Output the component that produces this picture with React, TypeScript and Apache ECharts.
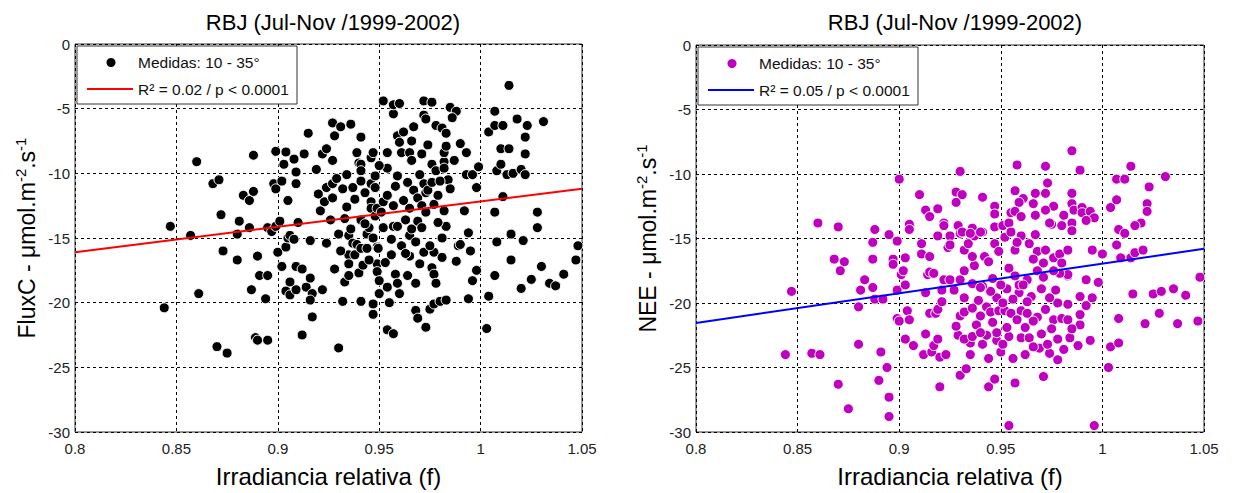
import React, { useEffect, useRef } from "react";
import * as echarts from "echarts";

const titleText = "RBJ (Jul-Nov /1999-2002)";
const xName = "Irradiancia relativa (f)";
const legendPoints = "Medidas: 10 - 35°";
const legendFitLeft = "R² = 0.02 / p < 0.0001";
const legendFitRight = "R² = 0.05 / p < 0.0001";

const fitLeft: number[][] = [[0.8, -16.1], [1.05, -11.2]];
const fitRight: number[][] = [[0.8, -21.55], [1.05, -15.8]];

const fluxC: number[][] = [
  [0.844,-20.4],[0.847,-14.1],[0.857,-14.8],[0.860,-9.1],[0.861,-19.3],[0.868,-10.8],[0.871,-10.5],[0.870,-23.4],[0.875,-23.9],[0.872,-13.2],
  [0.873,-16.0],[0.880,-16.7],[0.880,-14.7],[0.881,-13.7],[0.883,-11.7],[0.886,-12.1],[0.886,-14.2],[0.887,-19.0],[0.888,-8.6],[0.888,-11.4],
  [0.890,-16.4],[0.889,-22.7],[0.890,-22.9],[0.891,-17.9],[0.895,-17.9],[0.894,-19.7],[0.895,-22.9],[0.895,-14.2],[0.897,-14.5],[0.899,-8.3],
  [0.898,-10.8],[0.899,-11.2],[0.899,-14.1],[0.900,-16.1],[0.901,-13.7],[0.902,-10.6],[0.902,-17.2],[0.903,-9.3],[0.904,-8.35],[0.905,-12.1],
  [0.904,-15.7],[0.905,-15.0],[0.906,-14.8],[0.904,-19.1],[0.906,-18.4],[0.906,-19.4],[0.908,-15.1],[0.909,-10.8],[0.908,-8.9],[0.909,-19.0],
  [0.909,-9.9],[0.910,-13.8],[0.909,-17.2],[0.912,-17.4],[0.913,-8.5],[0.912,-22.5],[0.914,-18.8],[0.916,-18.1],[0.915,-6.9],[0.916,-15.2],
  [0.917,-19.3],[0.916,-19.8],[0.917,-21.1],[0.919,-9.7],[0.922,-8.5],[0.920,-11.6],[0.921,-12.9],[0.922,-19.0],[0.923,-12.2],[0.924,-8.1],
  [0.924,-15.4],[0.924,-11.1],[0.927,-10.8],[0.927,-11.9],[0.927,-9.0],[0.928,-7.1],[0.927,-6.1],[0.928,-17.4],[0.930,-23.5],[0.930,-14.7],
  [0.931,-6.4],[0.929,-10.4],[0.932,-19.9],[0.932,-11.2],[0.933,-13.5],[0.933,-18.4],[0.935,-17.9],[0.934,-10.1],[0.934,-12.6],[0.935,-16.3],
  [0.935,-17.0],[0.935,-14.8],[0.936,-14.3],[0.936,-6.2],[0.937,-15.4],[0.937,-11.1],[0.938,-16.3],[0.939,-8.4],[0.939,-15.5],[0.940,-9.2],
  [0.941,-9.3],[0.940,-17.7],[0.941,-7.2],[0.941,-19.9],[0.941,-9.8],[0.941,-10.6],[0.941,-13.6],[0.941,-15.8],[0.942,-17.1],[0.943,-11.5],
  [0.944,-15.8],[0.944,-14.7],[0.945,-14.2],[0.946,-12.2],[0.946,-12.7],[0.946,-10.8],[0.946,-8.8],[0.947,-8.4],[0.947,-20.1],[0.947,-20.9],
  [0.947,-15.0],[0.948,-10.2],[0.948,-11.1],[0.948,-13.3],[0.949,-12.7],[0.949,-15.7],[0.949,-17.0],[0.949,-17.6],[0.9495,-15.8],[0.950,-18.3],
  [0.950,-19.3],[0.952,-4.4],[0.952,-12.2],[0.952,-14.2],[0.954,-8.4],[0.954,-9.6],[0.954,-11.7],[0.954,-18.8],[0.955,-20.0],[0.954,-22.1],
  [0.957,-22.4],[0.956,-15.1],[0.956,-16.3],[0.957,-5.4],[0.957,-4.7],[0.960,-4.6],[0.957,-14.1],[0.958,-17.8],[0.959,-7.1],[0.959,-10.2],
  [0.959,-14.1],[0.959,-18.5],[0.960,-19.3],[0.960,-7.6],[0.961,-8.4],[0.961,-15.6],[0.962,-6.8],[0.963,-13.6],[0.964,-10.7],[0.964,-17.9],
  [0.965,-8.4],[0.965,-12.7],[0.965,-14.8],[0.965,-16.4],[0.966,-7.5],[0.967,-6.4],[0.966,-14.3],[0.967,-11.3],[0.968,-20.6],[0.968,-18.5],
  [0.969,-11.9],[0.969,-21.2],[0.969,-13.7],[0.970,-17.0],[0.971,-8.5],[0.971,-14.2],[0.971,-12.5],[0.972,-10.8],[0.973,-11.5],[0.972,-4.4],
  [0.972,-5.5],[0.973,-5.8],[0.972,-16.1],[0.973,-21.9],[0.974,-7.8],[0.974,-11.3],[0.975,-20.5],[0.976,-4.5],[0.976,-10.7],[0.976,-9.3],
  [0.976,-17.3],[0.977,-12.4],[0.977,-16.1],[0.977,-20.1],[0.977,-17.8],[0.978,-6.3],[0.978,-9.8],[0.978,-18.5],[0.979,-11.7],[0.980,-19.9],
  [0.981,-6.5],[0.981,-15.0],[0.981,-16.5],[0.982,-9.1],[0.982,-9.6],[0.982,-8.4],[0.983,-7.9],[0.982,-12.9],[0.983,-6.9],[0.983,-19.8],
  [0.983,-14.1],[0.984,-10.5],[0.985,-4.9],[0.988,-5.2],[0.986,-5.7],[0.987,-9.0],[0.988,-16.8],[0.989,-15.6],[0.990,-15.5],[0.990,-7.7],
  [0.992,-12.9],[0.993,-8.4],[0.993,-10.1],[0.996,-10.1],[0.994,-19.7],[0.994,-14.6],[0.995,-16.0],[0.996,-18.3],[0.998,-11.1],[0.998,-17.5],
  [0.999,-9.5],[1.003,-22.0],[1.004,-6.8],[1.007,-6.3],[1.004,-19.5],[1.007,-5.2],[1.007,-13.0],[1.007,-17.9],[1.008,-15.3],[1.008,-9.8],
  [1.010,-8.1],[1.014,-8.1],[1.010,-9.3],[1.011,-6.3],[1.011,-11.8],[1.014,-3.2],[1.013,-10.1],[1.016,-10.0],[1.015,-16.7],[1.015,-14.7],
  [1.018,-5.8],[1.020,-9.7],[1.022,-10.1],[1.020,-18.9],[1.021,-15.2],[1.022,-8.5],[1.022,-7.2],[1.023,-6.3],[1.025,-18.2],[1.028,-13.0],
  [1.028,-14.2],[1.030,-17.2],[1.031,-6.0],[1.034,-18.5],[1.037,-18.7],[1.041,-17.8],[1.047,-16.7],[1.048,-15.6],
  [0.938,-12.0],[0.943,-13.9],[0.951,-13.0],[0.953,-16.9],[0.962,-12.1],[0.966,-9.0],[0.968,-15.3],[0.973,-13.0],[0.975,-15.6],[0.979,-13.8],
  [0.985,-11.2],[0.931,-16.0],[0.945,-16.7],[0.958,-11.0],[0.963,-16.2],[0.970,-10.1],[0.980,-10.6],[0.926,-13.6],[0.950,-9.4],[0.957,-12.5]
];

const nee: number[][] = [
  [0.900,-10.4],[0.910,-11.6],[0.913,-12.8],[0.915,-13.3],[0.919,-12.7],[0.922,-13.8],[0.860,-13.8],[0.870,-14.1],[0.888,-14.3],[0.905,-13.9],
  [0.905,-14.3],[0.895,-14.7],[0.919,-14.8],[0.985,-8.2],[0.958,-9.3],[0.972,-9.4],[0.989,-9.7],[1.014,-9.4],[1.031,-10.2],[0.930,-9.8],
  [1.007,-10.4],[1.011,-10.4],[0.973,-10.7],[1.023,-11.0],[0.957,-11.3],[0.972,-11.5],[0.985,-11.5],[0.967,-11.5],[0.961,-11.9],[0.959,-12.2],
  [0.928,-11.4],[0.931,-11.6],[0.928,-12.2],[0.941,-11.8],[1.007,-12.0],[1.004,-12.6],[1.022,-12.3],[1.022,-12.9],[0.966,-12.3],[0.947,-12.5],
  [0.947,-13.1],[0.985,-12.3],[0.986,-12.8],[0.990,-12.6],[0.990,-13.0],[0.994,-12.9],[0.976,-12.5],[0.972,-12.8],[0.955,-13.0],[0.957,-12.9],
  [0.960,-13.3],[0.967,-13.2],[0.981,-13.2],[0.996,-13.4],[0.992,-13.6],[1.019,-13.8],[1.016,-14.0],[0.922,-14.0],[0.929,-14.0],[0.936,-14.2],
  [0.941,-14.5],[0.947,-14.1],[0.951,-14.0],[0.954,-13.8],[0.975,-13.9],[0.974,-13.8],[0.980,-14.0],[0.985,-13.8],[0.985,-14.4],[1.008,-14.3],
  [1.011,-14.6],[0.930,-14.6],[0.960,-14.8],[0.967,-14.7],
  [0.847,-19.1],[0.844,-24.0],[0.857,-23.9],[0.861,-24.0],[0.870,-26.3],[0.875,-28.2],[0.868,-16.6],[0.873,-16.8],[0.871,-17.5],[0.880,-23.2],
  [0.880,-20.3],[0.881,-19.0],[0.883,-18.2],[0.887,-18.8],[0.887,-16.6],[0.887,-15.3],[0.888,-19.7],[0.892,-19.7],[0.890,-26.0],[0.891,-23.8],
  [0.894,-25.0],[0.895,-27.3],[0.895,-28.8],[0.899,-15.2],[0.897,-16.6],[0.897,-17.0],[0.899,-19.0],[0.899,-21.2],[0.900,-21.4],[0.901,-17.8],
  [0.902,-17.5],[0.903,-16.5],[0.903,-18.6],[0.904,-20.6],[0.905,-21.3],[0.903,-22.8],[0.907,-23.3],[0.911,-15.4],[0.911,-16.2],[0.915,-16.4],
  [0.914,-17.8],[0.913,-19.2],[0.915,-20.8],[0.918,-20.8],[0.913,-22.4],[0.912,-24.0],[0.916,-23.8],[0.917,-23.3],[0.919,-22.8],[0.920,-24.2],
  [0.920,-26.5],[0.919,-20.5],[0.915,-17.6],[0.917,-17.7],[0.923,-18.2],[0.921,-19.0],[0.921,-19.9],[0.924,-15.7],[0.925,-14.8],
  [0.954,-29.5],[0.996,-29.5],[0.944,-26.5],[0.947,-25.9],[0.957,-26.2],[0.971,-25.7],[0.930,-25.6],[0.933,-25.1],[1.003,-25.0],[0.923,-24.0],
  [0.935,-24.0],[0.950,-23.8],[0.956,-24.3],[0.969,-23.5],[0.974,-23.9],[0.978,-24.4],[0.981,-23.6],[0.988,-23.3],[1.004,-23.4],[1.008,-23.1],
  [0.994,-22.9],[0.941,-23.2],[0.935,-23.1],[0.948,-22.9],[0.951,-23.2],[0.929,-22.5],[0.932,-22.8],[0.936,-22.6],[0.943,-22.5],[0.948,-22.3],
  [0.954,-22.6],[0.960,-22.7],[0.964,-22.7],[0.970,-22.4],[0.973,-23.2],[0.978,-22.8],[0.984,-22.7],
  [0.930,-21.0],[0.932,-20.7],[0.936,-20.4],[0.940,-21.0],[0.943,-20.3],[0.945,-20.7],[0.949,-20.6],[0.952,-20.6],[0.955,-20.8],[0.960,-20.6],
  [0.963,-20.8],[0.968,-21.1],[0.972,-20.5],[0.976,-21.3],[0.980,-21.2],[0.983,-21.3],[0.989,-20.9],[0.989,-21.7],
  [1.008,-21.2],[1.021,-21.6],[1.028,-20.8],[1.037,-21.6],[1.047,-21.4],[0.992,-20.2],[0.995,-19.6],[0.989,-19.5],[1.015,-19.3],[1.025,-19.3],
  [1.029,-19.1],[1.035,-18.9],[1.041,-19.4],[1.048,-18.0],[0.998,-18.4],[0.992,-18.2],[0.983,-17.9],[0.977,-19.0],[0.983,-20.1],[0.978,-20.0],
  [0.970,-18.9],[0.965,-19.5],[0.959,-19.2],[0.956,-19.7],[0.953,-18.9],[0.948,-19.6],[0.945,-19.1],[0.941,-18.7],[0.936,-18.5],[0.932,-19.6],
  [0.927,-19.0],[0.922,-18.2],[0.925,-18.2],[0.930,-18.2],[0.932,-17.5],[0.937,-17.1],[0.940,-18.8],[0.942,-16.4],[0.944,-16.8],[0.936,-16.4],
  [0.932,-15.9],[0.934,-15.4],[0.937,-14.8],[0.940,-14.5],[0.925,-15.5],[0.931,-14.5],[0.935,-14.6],[0.947,-15.4],[0.952,-14.9],[0.955,-14.5],
  [0.957,-15.9],[0.958,-15.3],[0.964,-15.4],[0.968,-16.0],[0.972,-15.9],[0.971,-16.9],[0.976,-16.5],[0.979,-16.2],[0.983,-15.9],[0.980,-16.9],
  [0.968,-17.5],[0.963,-18.2],[0.959,-18.6],[0.954,-17.3],[0.950,-18.6],[0.946,-18.1],[0.983,-17.8],[0.979,-17.7],[0.976,-17.5],[0.961,-18.6],
  [0.971,-18.0],[0.995,-15.9],[1.000,-16.2],[1.007,-15.5],[1.009,-16.5],[1.014,-16.5],[1.016,-16.1],[1.020,-15.9],
  [0.938,-21.7],[0.946,-21.5],[0.953,-21.9],[0.958,-21.3],[0.962,-21.9],[0.966,-21.4],[0.975,-22.0],[0.944,-24.3],[0.962,-24.0],[0.939,-19.8],
  [0.951,-20.0],[0.963,-19.9],[0.974,-19.6],[0.957,-17.9],[0.966,-16.6],[0.949,-16.0],[0.940,-22.3],[0.928,-21.8],[0.985,-22.0],[0.966,-23.4]
];

const FONT = "'Liberation Sans', Arial, sans-serif";
const MAGENTA = "#BF00BF";

function xAxisCfg(gridIndex: number) {
  return {
    type: "value", gridIndex, min: 0.8, max: 1.05, interval: 0.05,
    name: xName, nameLocation: "middle", nameGap: 32,
    nameTextStyle: { fontSize: 24, color: "#000", fontFamily: FONT },
    axisLine: { show: false }, axisTick: { show: false },
    axisLabel: { fontSize: 15, color: "#222", fontFamily: FONT, margin: 9,
      formatter: (v: number) => String(Math.round(v * 100) / 100) },
    splitLine: { show: true, lineStyle: { color: "#000", type: [3, 3], width: 1 } },
  };
}

function yAxisCfg(gridIndex: number, prefix: string) {
  return {
    type: "value", gridIndex, min: -30, max: 0, interval: 5,
    name: `{a|${prefix} - μmol.m}{s|-2}{a|.s}{s|-1}`,
    nameLocation: "middle", nameGap: 35, nameRotate: 90,
    nameTextStyle: {
      color: "#000", fontFamily: FONT,
      rich: {
        a: { fontSize: 23, lineHeight: 25, verticalAlign: "bottom", color: "#000", fontFamily: FONT },
        s: { fontSize: 15, lineHeight: 15, padding: [0, 0, 16, 0], verticalAlign: "top", color: "#000", fontFamily: FONT },
      },
    },
    axisLine: { show: false }, axisTick: { show: false },
    axisLabel: { fontSize: 15, color: "#222", fontFamily: FONT, margin: 5 },
    splitLine: { show: true, lineStyle: { color: "#000", type: [3, 3], width: 1 } },
  };
}

function legendGraphics(x: number, y: number, color: string, lineColor: string, fitText: string) {
  return [
    { type: "rect", z: 100, shape: { x, y, width: 220, height: 58 }, style: { fill: "#fff", stroke: "#333", lineWidth: 1 } },
    { type: "circle", z: 101, shape: { cx: x + 34, cy: y + 16.5, r: 4.5 }, style: { fill: color } },
    { type: "text", z: 101, x: x + 61, y: y + 16.5, style: { text: legendPoints, fontSize: 15.5, fontFamily: FONT, fill: "#111", verticalAlign: "middle" } },
    { type: "line", z: 101, shape: { x1: x + 10, y1: y + 43, x2: x + 56, y2: y + 43 }, style: { stroke: lineColor, lineWidth: 2 } },
    { type: "text", z: 101, x: x + 61, y: y + 43, style: { text: fitText, fontSize: 15.5, fontFamily: FONT, fill: "#111", verticalAlign: "middle" } },
  ];
}

export default function App() {
  const ref = useRef<HTMLDivElement>(null);
  useEffect(() => {
    if (!ref.current) return;
    const chart = echarts.init(ref.current, null, { renderer: "svg" });
    chart.setOption({
      animation: false,
      backgroundColor: "#fff",
      title: [
        { text: titleText, left: 328, top: 6, textAlign: "center", textStyle: { fontSize: 22, fontWeight: "normal", color: "#000", fontFamily: FONT } },
        { text: titleText, left: 950, top: 6, textAlign: "center", textStyle: { fontSize: 22, fontWeight: "normal", color: "#000", fontFamily: FONT } },
      ],
      grid: [
        { left: 75, top: 44, width: 507, height: 392, show: true, borderColor: "#333", borderWidth: 1, backgroundColor: "transparent" },
        { left: 696, top: 45, width: 508, height: 392, show: true, borderColor: "#333", borderWidth: 1, backgroundColor: "transparent" },
      ],
      xAxis: [xAxisCfg(0), xAxisCfg(1)],
      yAxis: [yAxisCfg(0, "FluxC"), yAxisCfg(1, "NEE")],
      series: [
        { type: "scatter", xAxisIndex: 0, yAxisIndex: 0, data: fluxC, symbolSize: 10,
          itemStyle: { color: "#000", borderColor: "#fff", borderWidth: 1, opacity: 1 } },
        { type: "line", xAxisIndex: 0, yAxisIndex: 0, data: fitLeft, showSymbol: false, symbol: "none",
          lineStyle: { color: "#FF0000", width: 2 }, z: 5 },
        { type: "scatter", xAxisIndex: 1, yAxisIndex: 1, data: nee, symbolSize: 10,
          itemStyle: { color: MAGENTA, borderColor: "#fff", borderWidth: 1, opacity: 1 } },
        { type: "line", xAxisIndex: 1, yAxisIndex: 1, data: fitRight, showSymbol: false, symbol: "none",
          lineStyle: { color: "#0000FF", width: 2 }, z: 5 },
      ],
      graphic: [
        ...legendGraphics(77, 46, "#000", "#FF0000", legendFitLeft),
        ...legendGraphics(698, 47, MAGENTA, "#0000FF", legendFitRight),
      ],
    });
    return () => chart.dispose();
  }, []);
  return <div ref={ref} style={{ position: "fixed", left: 0, top: 0, width: 1233, height: 493 }} />;
}
